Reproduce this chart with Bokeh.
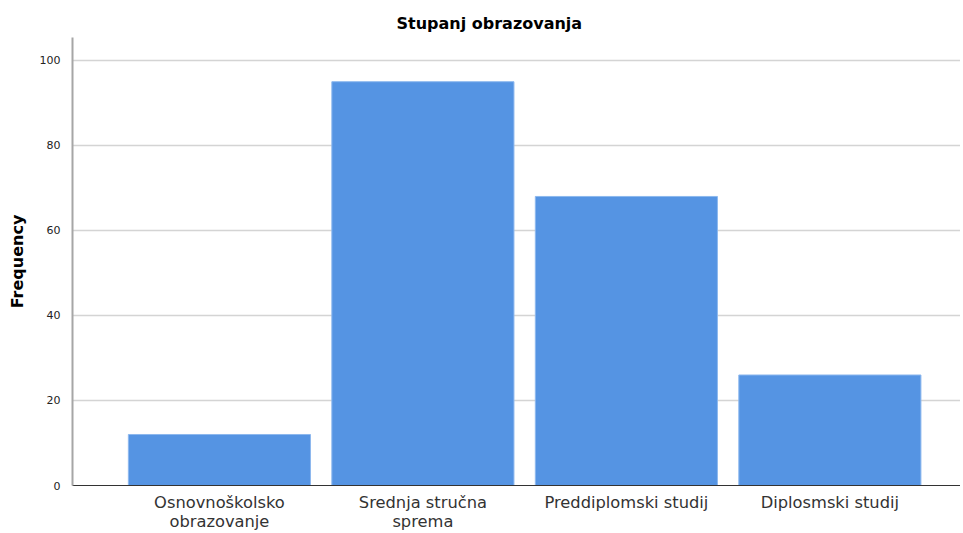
from bokeh.plotting import figure
from bokeh.models import ColumnDataSource, FixedTicker, Range1d
from bokeh.embed import file_html
from bokeh.resources import INLINE

title = "Stupanj obrazovanja"
categories = ["Osnovnoškolsko\nobrazovanje", "Srednja stručna\nsprema", "Preddiplomski studij", "Diplosmski studij"]
frequency = [12, 95, 68, 26]
y_ticks = [0, 20, 40, 60, 80, 100]

xs = list(range(len(categories)))
src = ColumnDataSource(dict(x=xs, top=frequency))

W, H = 960, 533
p = figure(width=W, height=H, output_backend="svg", toolbar_location=None,
           x_range=Range1d(-0.722, 3.642), y_range=Range1d(0, 105.4),
           min_border_left=72, min_border_right=0, min_border_top=37, min_border_bottom=47)
p.outline_line_color = None
p.background_fill_color = "white"

p.title.text = title
p.title.align = "left"
p.title.offset = 324
p.title.standoff = 9
p.title.text_font = "DejaVu Sans"
p.title.text_font_style = "bold"
p.title.text_font_size = "16px"
p.title.text_color = "black"

p.vbar(x="x", top="top", width=0.895, source=src, fill_color="#5594E3",
       line_color="#8DB8EE", line_width=1)

p.xgrid.grid_line_color = None
p.ygrid.ticker = FixedTicker(ticks=y_ticks)
p.ygrid.grid_line_color = "#D4D4D4"
p.ygrid.grid_line_width = 1.5

p.yaxis.ticker = FixedTicker(ticks=y_ticks)
p.yaxis.axis_line_color = "#A6A6A6"
p.yaxis.axis_line_width = 2
p.yaxis.major_tick_line_color = None
p.yaxis.minor_tick_line_color = None
p.yaxis.major_label_text_font = "DejaVu Sans"
p.yaxis.major_label_text_font_size = "11px"
p.yaxis.major_label_text_color = "#222222"
p.yaxis.major_label_standoff = 6
p.yaxis.axis_label = "Frequency"
p.yaxis.axis_label_text_font = "DejaVu Sans"
p.yaxis.axis_label_text_font_style = "bold"
p.yaxis.axis_label_text_font_size = "16px"
p.yaxis.axis_label_text_color = "black"
p.yaxis.axis_label_standoff = 10

p.xaxis.ticker = FixedTicker(ticks=xs)
p.xaxis.major_label_overrides = {i: c for i, c in zip(xs, categories)}
p.xaxis.axis_line_color = "#333333"
p.xaxis.axis_line_width = 1.2
p.xaxis.major_tick_line_color = None
p.xaxis.minor_tick_line_color = None
p.xaxis.major_label_text_font = "DejaVu Sans"
p.xaxis.major_label_text_font_size = "16.3px"
p.xaxis.major_label_text_line_height = 1.0
p.xaxis.major_label_text_color = "#333333"
p.xaxis.major_label_standoff = 1

open("out.html", "w").write(file_html(p, INLINE))
